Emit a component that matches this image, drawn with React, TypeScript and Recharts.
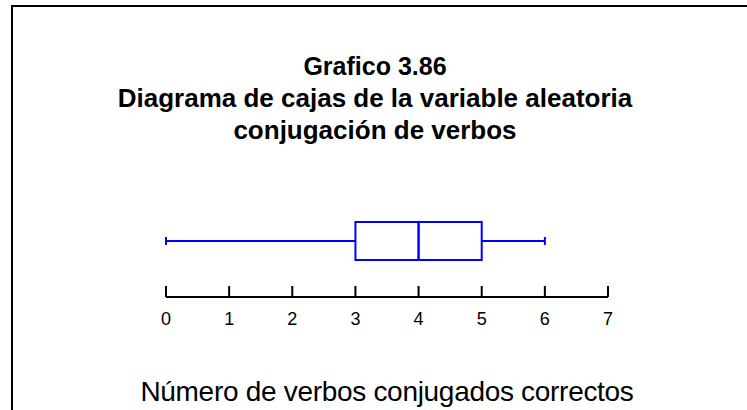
import { ComposedChart, Bar, XAxis, YAxis } from 'recharts'

const categories = ['conjugación de verbos']
const minValues = [0]
const q1Values = [3]
const medianValues = [4]
const q3Values = [5]
const maxValues = [6]
const xTicks = [0, 1, 2, 3, 4, 5, 6, 7]

const titleLines = ['Grafico 3.86', 'Diagrama de cajas de la variable aleatoria', 'conjugación de verbos']
const axisTitle = 'Número de verbos conjugados correctos'

// stacked segments: invisible base, lower whisker, two halves of the box, upper whisker
const data = categories.map((name, i) => ({
  name,
  base: minValues[i],
  lowWhisker: q1Values[i] - minValues[i],
  lowBox: medianValues[i] - q1Values[i],
  highBox: q3Values[i] - medianValues[i],
  highWhisker: maxValues[i] - q3Values[i],
}))

const BLUE = '#0000ff'
const FONT = 'Liberation Sans, Arial, sans-serif'

function Whisker(props: any, capAtEnd: boolean) {
  const { x, y, width, height } = props
  const cy = y + height / 2
  const capX = capAtEnd ? x + width : x
  return (
    <g>
      <line x1={x} x2={x + width} y1={cy} y2={cy} stroke={BLUE} strokeWidth={2} />
      <line x1={capX} x2={capX} y1={cy - 4} y2={cy + 4} stroke={BLUE} strokeWidth={2} />
    </g>
  )
}

function BoxHalf(props: any) {
  const { x, y, width, height } = props
  return <rect x={x} y={y} width={width} height={height} fill="none" stroke={BLUE} strokeWidth={2} />
}

function AxisTick(props: any) {
  const { x, y, payload } = props
  return (
    <g>
      <line x1={x} x2={x} y1={y} y2={y - 11} stroke="#000" strokeWidth={2} />
      <text x={x} y={y + 28} textAnchor="middle" fontSize={18} fill="#000" fontFamily={FONT}>
        {payload.value}
      </text>
    </g>
  )
}

export default function App() {
  return (
    <div style={{ position: 'absolute', left: 0, top: 0, width: 747, height: 410, background: '#fff', overflow: 'hidden' }}>
      <div style={{ position: 'absolute', left: 11, top: 5, width: 736, height: 405, borderTop: '2px solid #000', borderLeft: '2px solid #000', boxSizing: 'border-box' }} />
      <div style={{ position: 'absolute', left: 0, top: 0 }}>
        <ComposedChart width={747} height={410} data={data} layout="vertical" margin={{ top: 185, right: 139, bottom: 83, left: 166 }} barSize={38}>
          <XAxis
            type="number"
            domain={[0, 7]}
            ticks={xTicks}
            interval={0}
            height={30}
            tickLine={false}
            tickSize={0}
            tickMargin={0}
            axisLine={{ stroke: '#000', strokeWidth: 2 }}
            tick={AxisTick}
          />
          <YAxis type="category" dataKey="name" hide />
          <Bar dataKey="base" stackId="box" fill="none" isAnimationActive={false} />
          <Bar dataKey="lowWhisker" stackId="box" isAnimationActive={false} shape={(p: any) => Whisker(p, false)} />
          <Bar dataKey="lowBox" stackId="box" isAnimationActive={false} shape={BoxHalf} />
          <Bar dataKey="highBox" stackId="box" isAnimationActive={false} shape={BoxHalf} />
          <Bar dataKey="highWhisker" stackId="box" isAnimationActive={false} shape={(p: any) => Whisker(p, true)} />
        </ComposedChart>
      </div>
      <svg width={747} height={410} style={{ position: 'absolute', left: 0, top: 0, pointerEvents: 'none' }}>
        <g fontFamily={FONT} fontWeight="bold" fill="#000" textAnchor="middle">
          <text x={375} y={75} fontSize={25}>{titleLines[0]}</text>
          <text x={375} y={107} fontSize={26}>{titleLines[1]}</text>
          <text x={375} y={139} fontSize={26}>{titleLines[2]}</text>
        </g>
        <text x={387} y={401} fontSize={28} letterSpacing={-0.3} fontFamily={FONT} fill="#000" textAnchor="middle">
          {axisTitle}
        </text>
      </svg>
    </div>
  )
}
